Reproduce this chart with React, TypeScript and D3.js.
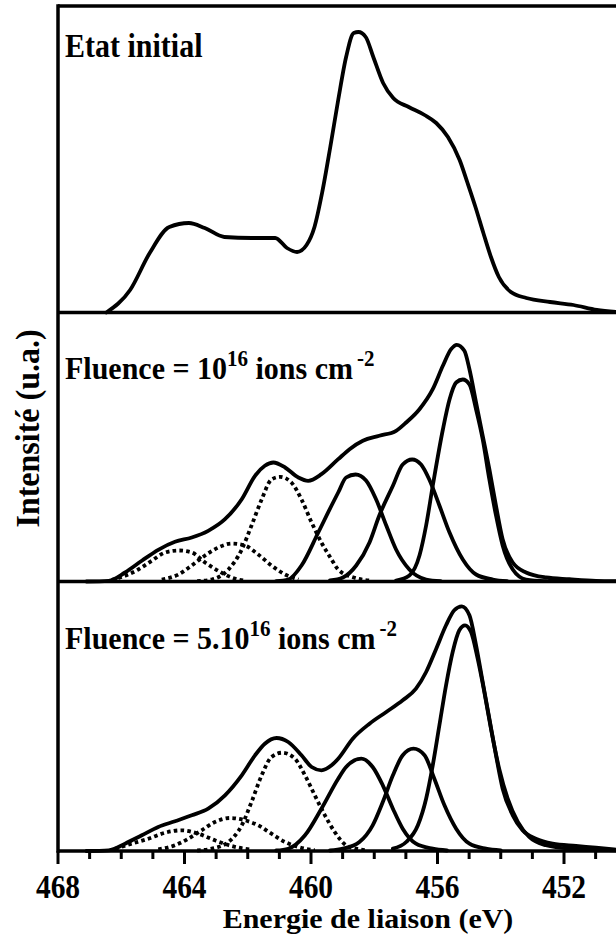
import React from "react";
import * as d3 from "d3";

type Pt = [number, number];

// ---- Data (binding energy eV, intensity a.u.) ----
const energyTicksMajor = [468, 464, 460, 456, 452];

const initialEnvelope: Pt[] = [
  [466.47, 0], [465.72, 22.5], [465.1, 59.5], [464.48, 85.5], [463.86, 89.5], [463.36, 84.5],
  [462.74, 75.5], [461.87, 74.5], [461.13, 74.5], [460.76, 64.5], [460.44, 60.5], [460.14, 67.5],
  [459.89, 85.5], [459.65, 119.5], [459.39, 165.5], [459.14, 212.5], [458.89, 255.5], [458.65, 279.5],
  [458.5, 280.5], [458.27, 275.5], [458.03, 255.5], [457.72, 229.5], [457.4, 214.5], [456.91, 205.5],
  [456.41, 197.5], [456.04, 189.5], [455.67, 175.5], [455.3, 152.5], [455.05, 129.5], [454.8, 105.5],
  [454.55, 79.5], [454.31, 55.5], [454.06, 35.5], [453.68, 20.5], [453.19, 14.5], [452.44, 10.5],
  [451.7, 7.5], [450.96, 2.5], [450.36, 0.5],
];

const f1Envelope: Pt[] = [
  [467.1, 0], [466.4, 0.7], [465.88, 9], [465.35, 20.7], [464.83, 31.7], [464.3, 39.7], [463.77, 44],
  [463.25, 50.7], [462.72, 62.3], [462.19, 82.3], [461.77, 105.7], [461.46, 115.7], [461.19, 119],
  [460.82, 114], [460.4, 104], [460.09, 100.7], [459.67, 107.3], [459.14, 122.3], [458.78, 132.3],
  [458.36, 140.7], [457.84, 145.7], [457.31, 150.7], [456.99, 159], [456.57, 172.3], [456.15, 192.3],
  [455.83, 215.7], [455.57, 232.3], [455.39, 236.7], [455.15, 230.7], [454.99, 212.3], [454.78, 179],
  [454.57, 145.7], [454.36, 112.3], [454.15, 75.7], [453.94, 42.3], [453.62, 19], [453.2, 9],
  [452.57, 4], [451.83, 2.3], [450.99, 0.7], [450.36, 0.3],
];
const f1PeakA: Pt[] = [
  [457.31, 1], [456.89, 6], [456.57, 26], [456.36, 56], [456.15, 95.7], [455.83, 152], [455.62, 182],
  [455.41, 199], [455.2, 202], [454.99, 197], [454.78, 172], [454.57, 142], [454.36, 102], [454.15, 66],
  [453.94, 36], [453.62, 12], [453.2, 2], [452.57, 0.3],
];
const f1PeakB: Pt[] = [
  [459.4, 1], [458.99, 4], [458.57, 16], [458.15, 39], [457.84, 66], [457.41, 95.7], [457.1, 117],
  [456.8, 122], [456.52, 117], [456.26, 102], [455.94, 76], [455.62, 49], [455.2, 22], [454.78, 7],
  [454.25, 2], [453.8, 0.3],
];
const f1PeakC: Pt[] = [
  [461.1, 0.3], [460.72, 2], [460.3, 16], [459.77, 49], [459.35, 76], [459.14, 89], [458.89, 104],
  [458.59, 107], [458.26, 101], [457.94, 82], [457.62, 56], [457.31, 32], [456.89, 12], [456.36, 2],
  [455.9, 0.3],
];
const f1SatA: Pt[] = [
  [463.6, 0.3], [463.14, 2], [462.61, 12], [462.19, 32], [461.88, 56], [461.56, 82], [461.25, 102],
  [460.98, 104.7], [460.62, 99], [460.3, 82], [459.98, 59], [459.67, 39], [459.35, 22], [459.14, 12],
  [458.65, 4], [458.13, 1],
];
const f1SatB: Pt[] = [
  [464.72, 2], [464.19, 7], [463.77, 16], [463.35, 26], [462.93, 34], [462.51, 38], [462.09, 36],
  [461.67, 27], [461.25, 16], [460.82, 7], [460.4, 2],
];
const f1SatC: Pt[] = [
  [466.3, 1.7], [465.88, 5.7], [465.46, 12], [465.04, 20.7], [464.61, 29], [464.19, 31], [463.77, 29],
  [463.35, 19], [462.93, 10.7], [462.51, 4], [462.09, 0.7],
];

const f5Envelope: Pt[] = [
  [467.1, 0], [466.4, 0.7], [465.88, 7.3], [465.35, 15.7], [464.83, 24], [464.3, 29.7], [463.77, 35.7],
  [463.25, 42.3], [462.72, 55.7], [462.19, 75.7], [461.77, 95.7], [461.46, 107.3], [461.09, 113],
  [460.72, 109], [460.3, 95.7], [459.98, 84], [459.67, 80.7], [459.35, 85.7], [459.14, 92.3],
  [458.68, 112.3], [458.15, 127.3], [457.62, 139], [457.1, 150.7], [456.68, 162.3], [456.36, 179],
  [456.04, 202.3], [455.73, 225.7], [455.47, 240.7], [455.23, 244.7], [454.99, 235.7], [454.78, 205.7],
  [454.57, 169], [454.36, 132.3], [454.15, 95.7], [453.94, 62.3], [453.62, 35.7], [453.31, 20.7],
  [452.89, 12.3], [452.36, 7.3], [451.62, 5], [450.99, 3.3], [450.36, 1.3],
];
const f5PeakA: Pt[] = [
  [457.41, 2.3], [456.99, 9], [456.62, 25.7], [456.36, 52.3], [456.15, 85.7], [455.94, 125.7],
  [455.73, 165.7], [455.52, 199], [455.31, 220.7], [455.13, 225.7], [454.94, 219], [454.73, 192.3],
  [454.52, 159], [454.31, 122.3], [454.05, 82.3], [453.78, 52.3], [453.46, 29], [453.1, 14],
  [452.57, 5.7], [451.83, 2.3], [450.36, 0.7],
];
const f5PeakB: Pt[] = [
  [459.4, 0.5], [458.99, 2.3], [458.47, 9], [458.05, 25.7], [457.73, 49], [457.41, 75.7], [457.1, 95.7],
  [456.76, 102.3], [456.41, 95.7], [456.1, 72.3], [455.78, 45.7], [455.41, 22.3], [454.99, 7.3],
  [454.47, 2.3], [454.0, 0.5],
];
const f5PeakC: Pt[] = [
  [461.1, 0.5], [460.72, 2.3], [460.19, 15.7], [459.67, 42.3], [459.14, 72.3], [458.89, 84],
  [458.41, 92.3], [458.05, 84], [457.73, 65.7], [457.41, 42.3], [457.1, 22.3], [456.68, 7.3],
  [456.15, 2.3], [455.7, 0.5],
];
const f5SatA: Pt[] = [
  [463.6, 0.5], [463.14, 2.3], [462.61, 9], [462.19, 25.7], [461.88, 49], [461.56, 75.7], [461.25, 94],
  [460.91, 98.3], [460.51, 92.3], [460.19, 75.7], [459.88, 55.7], [459.56, 35.7], [459.25, 19],
  [458.89, 5.7], [458.57, 2.3], [458.2, 0.5],
];
const f5SatB: Pt[] = [
  [464.83, 1.7], [464.3, 5.7], [463.88, 12.3], [463.46, 20.7], [463.04, 29], [462.56, 33], [462.09, 30.7],
  [461.67, 25.7], [461.25, 17.3], [460.82, 9], [460.4, 4], [459.88, 0.7],
];
const f5SatC: Pt[] = [
  [466.19, 2.3], [465.67, 7.3], [465.14, 12.3], [464.61, 18.3], [464.09, 20.7], [463.56, 17.3],
  [463.04, 10.7], [462.51, 5], [461.88, 1.3],
];

// ---- Layout ----
const W = 616;
const H = 936;
const X0 = 58;
const PX_PER_EV = 31.625;
const panels = [
  { top: 6, bottom: 312.5 },
  { top: 312.5, bottom: 581.5 },
  { top: 581.5, bottom: 851 },
];

const FONT = "Liberation Serif, Times New Roman, Tinos, DejaVu Serif, serif";

export default function App() {
  const x = d3.scaleLinear().domain([468, 450]).range([X0, X0 + 18 * PX_PER_EV]);
  const yScales = panels.map((p) =>
    d3.scaleLinear().domain([0, p.bottom - p.top]).range([p.bottom, p.top])
  );
  const mkLine = (yi: number) =>
    d3
      .line<Pt>()
      .x((d) => x(d[0]))
      .y((d) => yScales[yi](d[1]))
      .curve(d3.curveMonotoneX);

  const solid = { fill: "none", stroke: "#000", strokeWidth: 3.8, strokeLinejoin: "round" as const, strokeLinecap: "round" as const };
  const dotted = { fill: "none", stroke: "#000", strokeWidth: 3.8, strokeDasharray: "3.6 3.2" };

  const series: { yi: number; data: Pt[]; dot: boolean }[] = [
    { yi: 0, data: initialEnvelope, dot: false },
    { yi: 1, data: f1SatC, dot: true },
    { yi: 1, data: f1SatB, dot: true },
    { yi: 1, data: f1SatA, dot: true },
    { yi: 1, data: f1PeakC, dot: false },
    { yi: 1, data: f1PeakB, dot: false },
    { yi: 1, data: f1PeakA, dot: false },
    { yi: 1, data: f1Envelope, dot: false },
    { yi: 2, data: f5SatC, dot: true },
    { yi: 2, data: f5SatB, dot: true },
    { yi: 2, data: f5SatA, dot: true },
    { yi: 2, data: f5PeakC, dot: false },
    { yi: 2, data: f5PeakB, dot: false },
    { yi: 2, data: f5PeakA, dot: false },
    { yi: 2, data: f5Envelope, dot: false },
  ];

  const ticks = d3.range(468, 449, -1);
  const axisY = panels[2].bottom;
  const xRight = W + 20;

  const fluenceLabel = (y: number, base: string) => (
    <text transform={`translate(65,${y}) scale(1,1.06)`} fontSize={30}>
      {base}
      <tspan fontSize={21} dy={-12}>16</tspan>
      <tspan dy={12}> ions cm</tspan>
      <tspan fontSize={21} dx={4} dy={-12}>-2</tspan>
    </text>
  );

  return (
    <svg
      width={W}
      height={H}
      style={{ position: "absolute", left: 0, top: 0, background: "#fff", fontFamily: FONT, fontWeight: 700 }}
    >
      <rect x={0} y={0} width={W} height={H} fill="#fff" />
      {series.map((s, i) => (
        <path key={i} d={mkLine(s.yi)(s.data) || ""} {...(s.dot ? dotted : solid)} />
      ))}
      {/* frame */}
      <line x1={X0} x2={xRight} y1={panels[0].top} y2={panels[0].top} stroke="#000" strokeWidth={3.5} />
      {panels.map((p, i) => (
        <line key={i} x1={X0} x2={xRight} y1={p.bottom} y2={p.bottom} stroke="#000" strokeWidth={3.5} />
      ))}
      <line x1={X0} x2={X0} y1={panels[0].top - 1.75} y2={axisY + 1.75} stroke="#000" strokeWidth={3.5} />
      {/* ticks */}
      {ticks.map((t) => {
        const major = energyTicksMajor.includes(t);
        return (
          <line key={t} x1={x(t)} x2={x(t)} y1={axisY} y2={axisY + (major ? 13 : 8)} stroke="#000" strokeWidth={3} />
        );
      })}
      {energyTicksMajor.map((t) => (
        <text key={t} transform={`translate(${x(t)},897.5) scale(1,1.14)`} fontSize={29.5} textAnchor="middle">
          {t}
        </text>
      ))}
      <text transform="translate(368,928) scale(1,0.92)" fontSize={30} textAnchor="middle">
        Energie de liaison (eV)
      </text>
      <text transform="translate(39,428.5) rotate(-90) scale(1,1.05)" fontSize={32} textAnchor="middle">
        Intensité (u.a.)
      </text>
      {/* panel labels */}
      <text transform="translate(65,56.5) scale(1,1.12)" fontSize={30}>
        Etat initial
      </text>
      {fluenceLabel(378.5, "Fluence = 10")}
      {fluenceLabel(648.5, "Fluence = 5.10")}
    </svg>
  );
}
